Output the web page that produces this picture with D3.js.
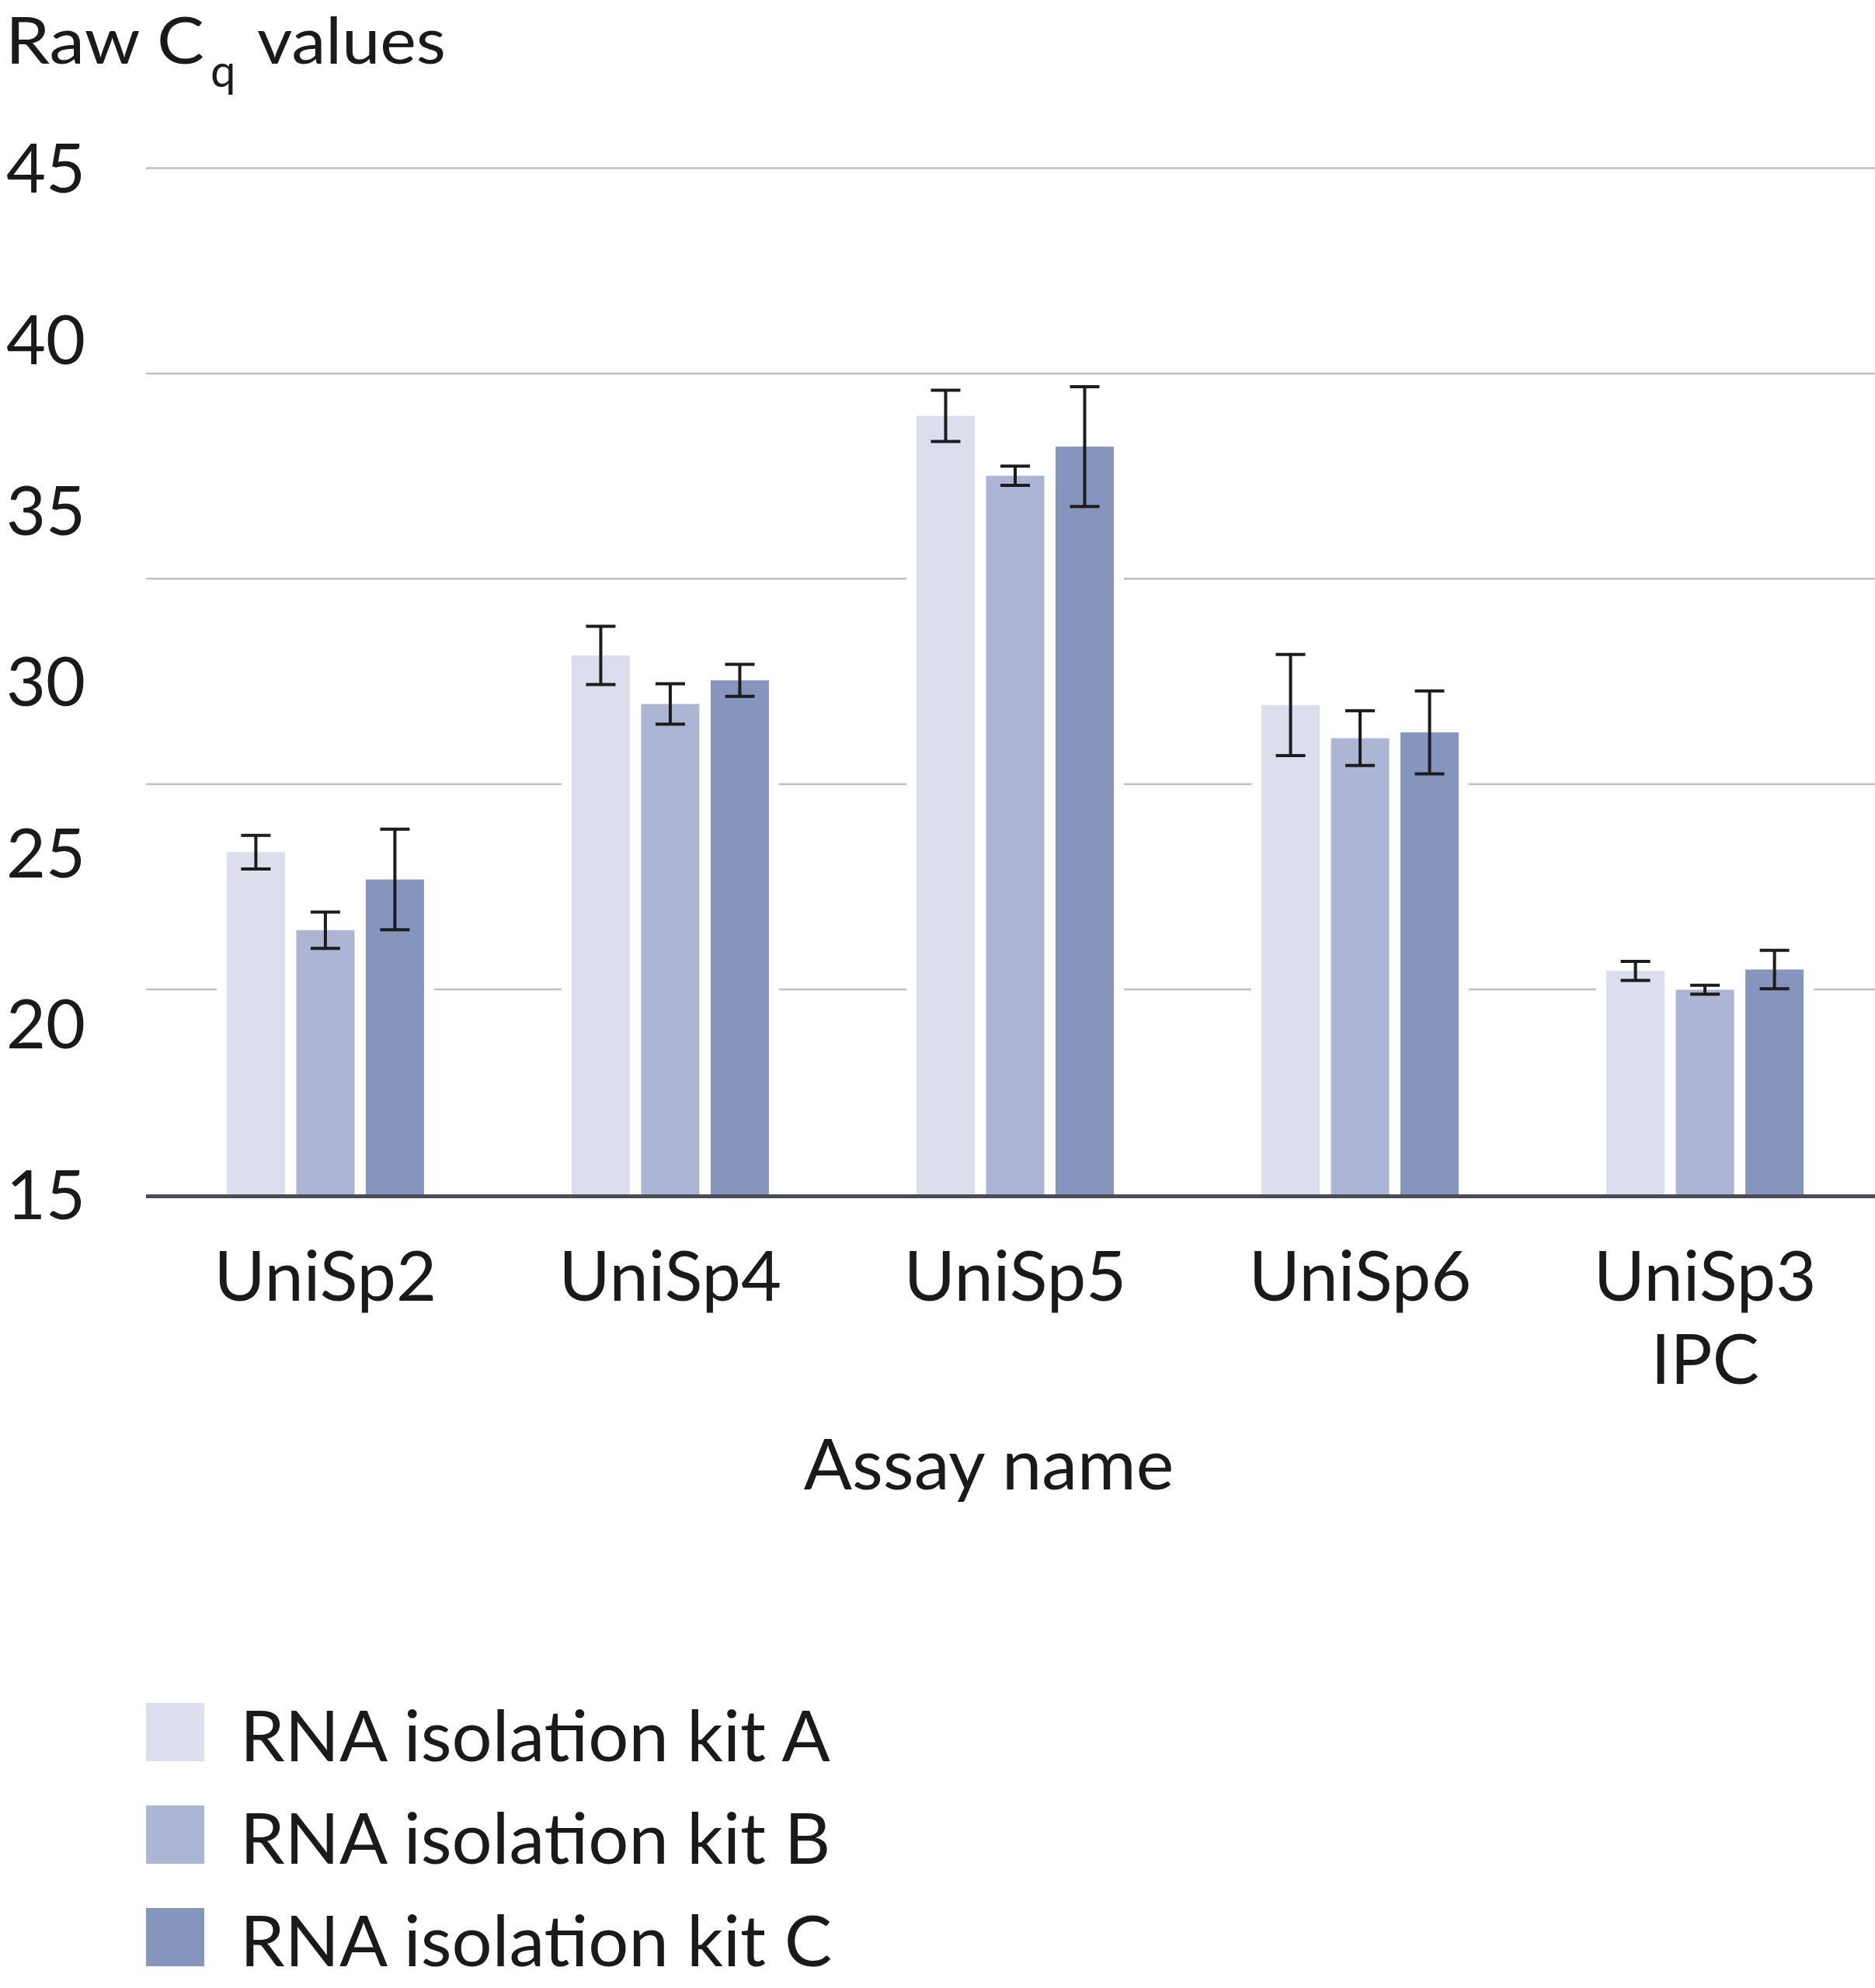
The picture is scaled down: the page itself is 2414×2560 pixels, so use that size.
<!DOCTYPE html>
<html>
<head>
<meta charset="utf-8">
<script src="https://cdn.jsdelivr.net/npm/d3@7"></script>
<style>
  html, body { margin: 0; padding: 0; background: #ffffff; }
  svg { display: block; }
  text { font-family: Lato, "Open Sans", sans-serif; fill: #1a1a1a; }
</style>
</head>
<body>
<svg id="chart" width="2414" height="2560"></svg>
<script>
// ---- data ----
const categories = ["UniSp2", "UniSp4", "UniSp5", "UniSp6", "UniSp3 IPC"];
const categoryLabelLines = [["UniSp2"], ["UniSp4"], ["UniSp5"], ["UniSp6"], ["UniSp3", "IPC"]];
const seriesNames = ["RNA isolation kit A", "RNA isolation kit B", "RNA isolation kit C"];
const kitA = [25.0, 30.75, 37.75, 29.3, 21.53];
const kitB = [22.72, 29.33, 36.0, 28.33, 20.98];
const kitC = [24.2, 30.02, 36.85, 28.5, 21.57];
const errA = [0.49, 0.85, 0.75, 1.48, 0.28];
const errB = [0.53, 0.59, 0.28, 0.80, 0.13];
const errC = [1.47, 0.47, 1.75, 1.21, 0.56];
const yTickLabels = [15, 20, 25, 30, 35, 40, 45];
const gridValues = [21, 27, 33, 39, 45];
const yDomain = [15, 45];
const seriesColors = ["#dcdeed", "#adb5d5", "#8695be"];

// ---- layout ----
const svg = d3.select("#chart");
const plotLeft = 188, plotRight = 2414, plotTop = 216, plotBottom = 1538;

const y = d3.scaleLinear().domain(yDomain).range([plotBottom, plotTop]);
const x0 = d3.scaleBand().domain(categories).range([188, 2426])
  .paddingInner(0.428).paddingOuter(0.234);
const x1 = d3.scaleBand().domain(seriesNames).range([0, x0.bandwidth()])
  .paddingInner(0.162).paddingOuter(0);
const color = d3.scaleOrdinal().domain(seriesNames).range(seriesColors);

const values = [kitA, kitB, kitC];
const errs = [errA, errB, errC];
const records = [];
categories.forEach((c, i) => {
  seriesNames.forEach((s, j) => {
    records.push({ cat: c, series: s, value: values[j][i], err: errs[j][i] });
  });
});

// gridlines
const grid = svg.append("g").attr("transform", `translate(${plotLeft},0)`)
  .call(d3.axisLeft(y).tickValues(gridValues).tickSize(-(plotRight - plotLeft)).tickFormat(""));
grid.select(".domain").remove();
grid.selectAll(".tick line").attr("stroke", "#bfbfbf").attr("stroke-width", 2.5);

// white masks behind bars (hide gridlines around bars)
const pad = 13;
svg.append("g").selectAll("rect").data(records).join("rect")
  .attr("x", d => x0(d.cat) + x1(d.series) - pad)
  .attr("width", x1.bandwidth() + 2 * pad)
  .attr("y", d => y(d.value) - pad)
  .attr("height", d => plotBottom - y(d.value) + pad)
  .attr("fill", "#ffffff");

// bars
svg.append("g").selectAll("rect").data(records).join("rect")
  .attr("x", d => x0(d.cat) + x1(d.series))
  .attr("width", x1.bandwidth())
  .attr("y", d => y(d.value))
  .attr("height", d => plotBottom - y(d.value))
  .attr("fill", d => color(d.series));

// error bars
const capW = 38;
const eb = svg.append("g").attr("stroke", "#1c1c1c").attr("stroke-width", 4);
records.forEach(d => {
  const cx = x0(d.cat) + x1(d.series) + x1.bandwidth() / 2;
  const yt = y(d.value + d.err), yb = y(d.value - d.err);
  eb.append("line").attr("x1", cx).attr("x2", cx).attr("y1", yt).attr("y2", yb);
  eb.append("line").attr("x1", cx - capW / 2).attr("x2", cx + capW / 2).attr("y1", yt).attr("y2", yt);
  eb.append("line").attr("x1", cx - capW / 2).attr("x2", cx + capW / 2).attr("y1", yb).attr("y2", yb);
});

// baseline
svg.append("line")
  .attr("x1", plotLeft).attr("x2", plotRight)
  .attr("y1", plotBottom + 2.5).attr("y2", plotBottom + 2.5)
  .attr("stroke", "#4a4d58").attr("stroke-width", 5);

// y labels
const yAxis = svg.append("g").attr("transform", "translate(110,0)")
  .call(d3.axisLeft(y).tickValues(yTickLabels).tickSize(0).tickPadding(0).tickFormat(d3.format("d")));
yAxis.select(".domain").remove();
yAxis.selectAll("text")
  .attr("font-size", 88).attr("fill", "#1a1a1a")
  .style("font-family", "Lato, 'Open Sans', sans-serif")
  .attr("dy", "0.36em");

// x labels
categories.forEach((c, i) => {
  const cx = x0(c) + x0.bandwidth() / 2;
  categoryLabelLines[i].forEach((line, k) => {
    svg.append("text").attr("x", cx).attr("y", 1675 + k * 107)
      .attr("text-anchor", "middle").attr("font-size", 90).text(line);
  });
});

// x axis title
svg.append("text").attr("x", 1273).attr("y", 1918).attr("text-anchor", "middle")
  .attr("font-size", 92).text("Assay name");

// y axis title with subscript
const titleG = svg.append("g");
titleG.append("text").attr("x", 7).attr("y", 82).attr("font-size", 84)
  .attr("textLength", 256).attr("lengthAdjust", "spacingAndGlyphs").text("Raw C");
titleG.append("text").attr("x", 271).attr("y", 112).attr("font-size", 58).text("q");
titleG.append("text").attr("x", 331).attr("y", 82).attr("font-size", 84)
  .attr("textLength", 243).attr("lengthAdjust", "spacingAndGlyphs").text("values");

// legend
const legend = svg.append("g");
seriesNames.forEach((s, j) => {
  const baseY = 2268 + j * 132;
  legend.append("rect").attr("x", 188).attr("y", baseY - 75).attr("width", 75).attr("height", 75)
    .attr("fill", color(s));
  legend.append("text").attr("x", 309).attr("y", baseY).attr("font-size", 92).text(s);
});
</script>
</body>
</html>
